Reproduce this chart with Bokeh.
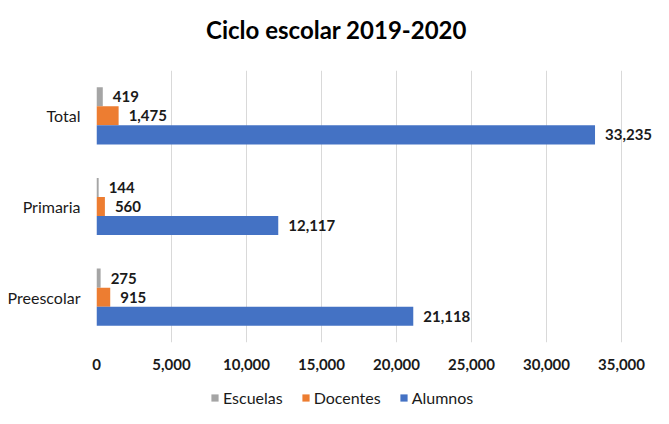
from bokeh.plotting import figure
from bokeh.layouts import column
from bokeh.models import (ColumnDataSource, FactorRange, Range1d, FixedTicker,
                          NumeralTickFormatter, Legend, LegendItem, Label)
from bokeh.transform import dodge
from bokeh.core.properties import value
from bokeh.embed import file_html
from bokeh.resources import INLINE

# ---- data ----
categories = ["Preescolar", "Primaria", "Total"]
escuelas = [275, 144, 419]
docentes = [915, 560, 1475]
alumnos = [21118, 12117, 33235]
series_names = ["Escuelas", "Docentes", "Alumnos"]
series_colors = ["#A5A5A5", "#ED7D31", "#4472C4"]
x_ticks = [0, 5000, 10000, 15000, 20000, 25000, 30000, 35000]
title_text = "Ciclo escolar 2019-2020"

FONT = "Lato"
TXT = "#1a1a1a"
W = 653
LEFT = 96     # frame left edge (all strips share this frame alignment)
X35 = 621     # pixel position of 35,000


def bare(fig):
    fig.outline_line_color = None
    fig.xgrid.grid_line_color = None
    fig.ygrid.grid_line_color = None
    return fig


src = ColumnDataSource(dict(
    cat=categories,
    esc=escuelas, doc=docentes, alu=alumnos,
    esc_l=[f"{v:,}" for v in escuelas],
    doc_l=[f"{v:,}" for v in docentes],
    alu_l=[f"{v:,}" for v in alumnos],
))

# ---- title strip ----
TH = 50
tf = bare(figure(width=W, height=TH, output_backend="svg", toolbar_location=None,
                 x_axis_type=None, y_axis_type=None,
                 x_range=Range1d(LEFT, W), y_range=Range1d(0, TH),
                 min_border_left=LEFT, min_border_right=0, min_border_top=0, min_border_bottom=0))
tf.add_layout(Label(x=336, y=TH - 29, text=title_text, text_align="center",
                    text_baseline="middle", text_font=FONT, text_font_size="24px",
                    text_font_style="bold", text_color="#000000"))

# ---- main chart ----
x_end = 35000 + (W - X35) * 35000 / (X35 - LEFT)

p = bare(figure(width=W, height=328, output_backend="svg", toolbar_location=None,
                y_range=FactorRange(factors=categories, range_padding=0),
                x_range=Range1d(0, x_end),
                min_border_left=LEFT, min_border_right=0,
                min_border_top=20, min_border_bottom=36))

bh = 0.21
offsets = [bh, 0, -bh]
cols = ["esc", "doc", "alu"]
for col, off, c in zip(cols, offsets, series_colors):
    p.hbar(y=dodge("cat", off, range=p.y_range), right=col, left=0, height=bh,
           source=src, color=c, line_color=None)
    p.text(x=col, y=dodge("cat", off, range=p.y_range), text=col + "_l", source=src,
           x_offset=10, text_baseline="middle", text_align="left",
           text_font=value(FONT), text_font_size="15px", text_font_style="bold",
           text_color=TXT)

p.xaxis.ticker = FixedTicker(ticks=x_ticks)
p.xaxis.formatter = NumeralTickFormatter(format="0,0")
for ax in (p.xaxis, p.yaxis):
    ax.axis_line_color = None
    ax.major_tick_line_color = None
    ax.minor_tick_line_color = None
    ax.major_tick_out = 0
    ax.major_tick_in = 0
    ax.minor_tick_out = 0
    ax.major_label_text_font = FONT
    ax.major_label_text_color = TXT
p.xaxis.major_label_standoff = 16
p.xaxis.major_label_text_font_size = "15px"
p.xaxis.major_label_text_font_style = "bold"
p.yaxis.major_label_standoff = 16
p.yaxis.major_label_text_font_size = "16px"

p.xgrid.grid_line_color = "#D9D9D9"
p.xgrid.grid_line_width = 1

# ---- legend strip ----
LH = 30
lf = bare(figure(width=W, height=LH, output_backend="svg", toolbar_location=None,
                 x_axis_type=None, y_axis_type=None,
                 x_range=Range1d(0, 1), y_range=Range1d(0, 1),
                 min_border_left=LEFT, min_border_right=0, min_border_top=0, min_border_bottom=0))
items = []
for name, c in zip(series_names, series_colors):
    # zero-size proxies (legend swatches only)
    r = lf.hbar(y=0, left=0, right=0, height=0, source=src, color=c, line_color=None)
    items.append(LegendItem(label=name, renderers=[r]))
legend = Legend(items=items, orientation="horizontal", location=(210 - LEFT, 1),
                glyph_width=9, glyph_height=9, label_height=14, label_standoff=4,
                spacing=18, padding=0, margin=0,
                label_text_font=FONT, label_text_font_size="16px", label_text_color=TXT,
                border_line_color=None, background_fill_alpha=0)
lf.add_layout(legend, "center")

layout = column(tf, p, lf, spacing=0)
open("out.html", "w").write(file_html(layout, INLINE))
